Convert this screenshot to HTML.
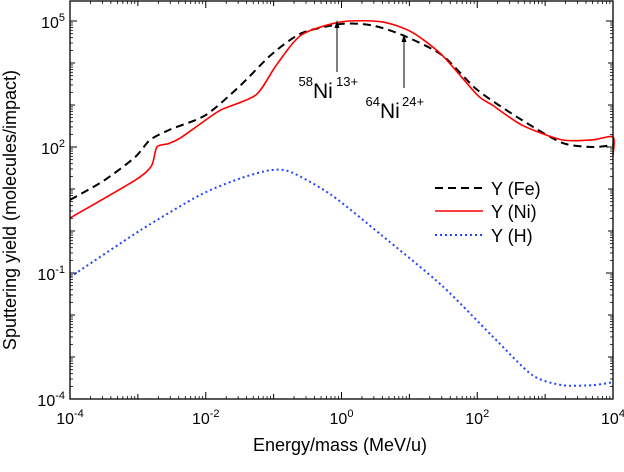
<!DOCTYPE html>
<html><head><meta charset="utf-8"><style>
body{margin:0;background:#fff}
svg{font-family:"Liberation Sans",Arial,sans-serif}
</style></head><body>
<svg id="chart" width="624" height="467" viewBox="0 0 624 467">
<g id="ticks"></g>
<g id="curves"></g>
<rect x="70" y="1" width="543" height="398" fill="none" stroke="#000" stroke-width="1.3"/>
<g>
<line x1="337" y1="72" x2="337" y2="24" stroke="#000" stroke-width="1"/>
<polygon points="337,20 334.5,28 339.5,28" fill="#000"/>
<text x="313" y="98" font-size="21">Ni</text>
<text x="313" y="86" font-size="13" text-anchor="end">58</text>
<text x="336" y="86" font-size="13">13+</text>
</g>
<g>
<line x1="404" y1="88" x2="404" y2="38" stroke="#000" stroke-width="1"/>
<polygon points="404,34 401.5,42 406.5,42" fill="#000"/>
<text x="380" y="118" font-size="21">Ni</text>
<text x="380" y="106" font-size="13" text-anchor="end">64</text>
<text x="402" y="106" font-size="13">24+</text>
</g>
<g>
<line x1="435" y1="188" x2="483" y2="188" stroke="#000" stroke-width="2" stroke-dasharray="8,5"/>
<text x="491" y="195" font-size="18">Y (Fe)</text>
<line x1="435" y1="211" x2="483" y2="211" stroke="#f00" stroke-width="1.6"/>
<text x="491" y="218" font-size="18">Y (Ni)</text>
<line x1="435" y1="235" x2="483" y2="235" stroke="#2244ff" stroke-width="2" stroke-dasharray="2,3"/>
<text x="491" y="242" font-size="18">Y (H)</text>
</g>
<text x="340" y="451" font-size="18" text-anchor="middle">Energy/mass (MeV/u)</text>
<text transform="translate(16,210) rotate(-90)" font-size="18" text-anchor="middle">Sputtering yield (molecules/impact)</text>
</svg>
<script>
const feLogX=[-4,-3.5,-3.04,-2.82,-2.52,-2.0,-1.48,-1.04,-0.59,0,0.44,0.89,1.48,2.0,2.66,3.25,3.7,4];
const feLogY=[0.74,1.2,1.76,2.17,2.42,2.76,3.48,4.19,4.71,4.93,4.90,4.67,4.19,3.36,2.64,2.10,2.0,2.05];
const niLogX=[-4,-3.04,-2.8,-2.72,-2.55,-2.37,-2.08,-1.78,-1.26,-0.96,-0.59,0,0.59,1.03,1.48,2.0,2.22,2.66,3.25,3.7,4,4];
const niLogY=[0.31,1.21,1.55,2.0,2.08,2.22,2.55,2.88,3.24,3.95,4.67,4.98,4.98,4.74,4.19,3.24,3.0,2.52,2.17,2.17,2.24,1.8];
const hLogX=[-4,-2.96,-2.08,-1.48,-1.04,-0.74,-0.15,0.59,1.48,2.22,2.81,3.25,3.7,4];
const hLogY=[-1.10,0.02,0.86,1.26,1.45,1.40,0.86,-0.10,-1.3,-2.5,-3.43,-3.67,-3.67,-3.6];
const xTickExps=[-4,-2,0,2,4];
const yTickExps=[-4,-1,2,5];
const X0=70,X1=613,Y0=399,Y1=21;
const sx=v=>X0+(v+4)/8*(X1-X0);
const sy=v=>Y0-(v+4)/9*(Y0-Y1);
const NS="http://www.w3.org/2000/svg";
const ticks=document.getElementById('ticks'),curves=document.getElementById('curves');
function mk(tag,attrs,parent){const e=document.createElementNS(NS,tag);for(const k in attrs)e.setAttribute(k,attrs[k]);parent.appendChild(e);return e;}
for(let d=-4;d<=4;d++){
  const major=d%2===0;
  for(const y of [Y0,1]){
    const dir=y===Y0?-1:1;
    const t=mk('line',{x1:sx(d),x2:sx(d),y1:y,y2:y+dir*(major?7:5),stroke:'#000','stroke-width':1},ticks);
    
    
  }
  if(d<4)for(let m=2;m<=9;m++){const x=sx(d+Math.log10(m));
    for(const y of [Y0,1]){const dir=y===Y0?-1:1;mk('line',{x1:x,x2:x,y1:y,y2:y+dir*3,stroke:'#000','stroke-width':0.8},ticks);}}
}
for(let d=-4;d<=5;d++){
  const major=yTickExps.includes(d);
  for(const x of [X0,X1]){
    const dir=x===X0?1:-1;
    const t=mk('line',{x1:x,x2:x+dir*(major?7:5),y1:sy(d),y2:sy(d),stroke:'#000','stroke-width':1},ticks);
    
    
  }
  if(d<5)for(let m=2;m<=9;m++){const y=sy(d+Math.log10(m));
    for(const x of [X0,X1]){const dir=x===X0?1:-1;mk('line',{x1:x,x2:x+dir*3,y1:y,y2:y,stroke:'#000','stroke-width':0.8},ticks);}}
}
xTickExps.forEach(e=>{
  const t=mk('text',{x:sx(e),y:424,'font-size':16,'text-anchor':'middle'},ticks);
  
  
  t.textContent='10';
  const s=mk('tspan',{dy:-7,'font-size':11},t);s.textContent=String(e);
});
yTickExps.forEach(e=>{
  const t=mk('text',{x:65,y:sy(e)+7,'font-size':16,'text-anchor':'end'},ticks);
  
  
  t.textContent='10';
  const s=mk('tspan',{dy:-7,'font-size':11},t);s.textContent=String(e);
});
function curve(xs,ys,stroke,dash,w,name){
  const pts=xs.map((v,i)=>[sx(v),sy(ys[i])]);
  let d='M'+pts[0][0]+','+pts[0][1];
  for(let i=1;i<pts.length;i++){
    const p0=pts[Math.max(0,i-2)],p1=pts[i-1],p2=pts[i],p3=pts[Math.min(pts.length-1,i+1)];
    const k=8;
    const c1=[p1[0]+(p2[0]-p0[0])/k,p1[1]+(p2[1]-p0[1])/k],c2=[p2[0]-(p3[0]-p1[0])/k,p2[1]-(p3[1]-p1[1])/k];
    d+=` C${c1[0]},${c1[1]} ${c2[0]},${c2[1]} ${p2[0]},${p2[1]}`;
  }
  const p=mk('path',{d,fill:'none',stroke,'stroke-width':w},curves);
  if(dash)p.setAttribute('stroke-dasharray',dash);
  
  
}
curve(hLogX,hLogY,'#2244ff','2,3',2,'series-h');
curve(feLogX,feLogY,'#000','8,5',2,'series-fe');
curve(niLogX,niLogY,'#f00',null,1.6,'series-ni');
</script>
</body></html>
